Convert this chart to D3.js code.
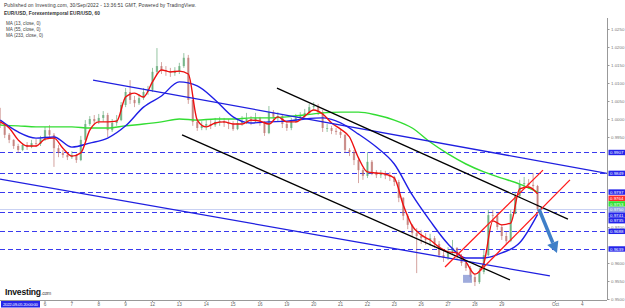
<!DOCTYPE html>
<html><head><meta charset="utf-8">
<script src="https://cdn.jsdelivr.net/npm/d3@7"></script>
<style>
html,body{margin:0;padding:0;background:#fff;overflow:hidden;}
svg{display:block;font-family:"Liberation Sans",Arial,sans-serif;}
</style></head><body>
<svg id="c" width="625" height="308"></svg>
<script>
const barStartHour = -40, barHours = 4, firstOpen = 0.9997;
const closes = [
0.9983,0.9956,0.9942,0.9925,0.9914,0.9928,0.9922,0.9933,0.9931,0.9944,
0.9969,0.9956,0.9919,0.9906,0.9900,0.9894,0.9900,0.9886,0.9942,0.9986,
1.0000,0.9994,1.0003,1.0011,0.9969,0.9989,0.9997,1.0039,1.0075,1.0053,
1.0044,1.0058,1.0075,1.0081,1.0131,1.0147,1.0136,1.0133,1.0128,1.0131,
1.0147,1.0170,1.0053,0.9992,0.9975,0.9981,0.9986,0.9983,0.9992,0.9994,
0.9989,0.9986,0.9972,0.9989,0.9994,1.0000,0.9994,1.0003,0.9992,0.9961,
1.0019,1.0006,1.0008,0.9986,0.9975,0.9994,1.0003,1.0008,1.0017,1.0033,
1.0036,1.0019,0.9975,0.9975,0.9967,0.9964,0.9956,0.9914,0.9908,0.9886,
0.9858,0.9842,0.9881,0.9853,0.9844,0.9847,0.9842,0.9839,0.9825,0.9781,
0.9731,0.9706,0.9683,0.9675,0.9669,0.9664,0.9669,0.9653,0.9622,0.9614,
0.9631,0.9642,0.9619,0.9600,0.9586,0.9561,0.9547,0.9575,0.9622,0.9733,
0.9731,0.9700,0.9675,0.9661,0.9736,0.9786,0.9819,0.9822,0.9817,0.9814,
0.9750];
const highs = [
1.0031,0.9986,0.9961,0.9944,0.9931,0.9933,0.9936,0.9942,0.9944,0.9953,
0.9978,0.9983,0.9961,0.9928,0.9914,0.9908,0.9911,0.9903,0.9953,0.9997,
1.0008,1.0011,1.0014,1.0022,1.0017,1.0000,1.0011,1.0047,1.0086,1.0108,
1.0064,1.0069,1.0086,1.0092,1.0142,1.0197,1.0158,1.0147,1.0142,1.0144,
1.0156,1.0183,1.0178,1.0053,0.9997,0.9994,1.0000,0.9997,1.0003,1.0006,
1.0003,1.0000,0.9994,1.0000,1.0008,1.0017,1.0008,1.0017,1.0006,0.9994,
1.0036,1.0025,1.0019,1.0014,0.9992,1.0003,1.0014,1.0019,1.0028,1.0042,
1.0047,1.0042,1.0025,0.9986,0.9981,0.9975,0.9969,0.9958,0.9919,0.9914,
0.9894,0.9864,0.9908,0.9886,0.9858,0.9858,0.9856,0.9853,0.9842,0.9831,
0.9783,0.9736,0.9708,0.9697,0.9692,0.9683,0.9681,0.9675,0.9661,0.9636,
0.9644,0.9664,0.9644,0.9625,0.9603,0.9592,0.9569,0.9586,0.9636,0.9747,
0.9747,0.9739,0.9706,0.9686,0.9747,0.9797,0.9831,0.9839,0.9833,0.9850,
0.9817];
const lows = [
0.9975,0.9947,0.9933,0.9917,0.9906,0.9911,0.9914,0.9919,0.9922,0.9925,
0.9939,0.9950,0.9867,0.9894,0.9892,0.9886,0.9889,0.9878,0.9883,0.9939,
0.9981,0.9983,0.9986,0.9992,0.9950,0.9964,0.9981,0.9994,1.0033,1.0042,
1.0033,1.0039,1.0053,1.0067,1.0075,1.0125,1.0125,1.0120,1.0117,1.0120,
1.0125,1.0142,1.0042,0.9981,0.9967,0.9969,0.9969,0.9972,0.9978,0.9981,
0.9978,0.9972,0.9967,0.9969,0.9981,0.9986,0.9983,0.9989,0.9981,0.9953,
0.9958,0.9997,0.9994,0.9975,0.9967,0.9969,0.9989,0.9997,1.0003,1.0014,
1.0025,1.0011,0.9964,0.9964,0.9958,0.9956,0.9947,0.9906,0.9897,0.9872,
0.9822,0.9831,0.9836,0.9844,0.9836,0.9836,0.9833,0.9828,0.9814,0.9769,
0.9719,0.9694,0.9672,0.9572,0.9653,0.9650,0.9647,0.9642,0.9614,0.9603,
0.9608,0.9625,0.9611,0.9592,0.9578,0.9553,0.9536,0.9542,0.9569,0.9619,
0.9714,0.9692,0.9664,0.9653,0.9658,0.9736,0.9783,0.9808,0.9806,0.9803,
0.9744];
// moving averages (MA13 every 2 bars, MA55 / MA233 every 4 bars)
const ma13Step = 2, maStep = 4;
const ma13 = [
0.9992,0.9975,0.9942,0.9925,0.9925,0.9944,0.9947,0.9919,0.9897,0.9906,
0.9969,0.9992,0.9992,0.9994,1.0061,1.0072,1.0061,1.0103,1.0136,1.0131,
1.0133,1.0125,0.9997,0.9978,0.9989,0.9992,0.9986,0.9986,0.9997,0.9994,
0.9986,1.0006,0.9992,0.9992,1.0008,1.0025,1.0014,0.9989,0.9972,0.9950,
0.9892,0.9853,0.9850,0.9847,0.9836,0.9761,0.9703,0.9678,0.9664,0.9644,
0.9631,0.9628,0.9603,0.9569,0.9600,0.9717,0.9706,0.9711,0.9806,0.9811,
0.9792];
const ma55 = [
0.9997,0.9964,0.9947,0.9950,0.9922,0.9933,0.9947,0.9981,1.0033,1.0064,
1.0103,1.0092,1.0053,1.0006,0.9989,0.9992,0.9994,1.0000,1.0003,0.9989,
0.9958,0.9922,0.9875,0.9789,0.9717,0.9653,0.9614,0.9614,0.9628,0.9656,
0.9735];
const ma233 = [
0.9983,0.9981,0.9978,0.9978,0.9978,0.9975,0.9975,0.9981,0.9986,0.9992,
1.0000,0.9997,1.0000,1.0000,1.0003,1.0003,1.0006,1.0011,1.0017,1.0019,
1.0019,1.0011,0.9997,0.9975,0.9936,0.9903,0.9875,0.9853,0.9836,0.9819,
0.9797];
const hLevels = [0.9907, 0.9849, 0.9797, 0.9741, 0.9688, 0.9639];
const lastPrice = 0.9750;
const tagValues = [0.9907, 0.9849, 0.9797, 0.9764, 0.9753, 0.9750, 0.9741, 0.9735, 0.9688, 0.9639];
const tagKinds  = ["b","b","b","r","g","l","b","b","b","b"];
const priceTicks = [1.025, 1.02, 1.015, 1.01, 1.005, 1.0, 0.995, 0.97, 0.96, 0.955, 0.95];
const dayLabels = ["6","7","8","9","12","13","14","15","16","19","20","21","22","23","26","27","28","29","Oct","4"];
const dayIndex  = [0,1,2,3,4,5,6,7,8,9,10,11,12,13,14,15,16,17,19,20];
// drawn tools: hour index / price endpoints
const trendLines = [
  {t1: 42.9,  p1: 1.0108, t2: 502,   p2: 0.9849, c: "#1f1fe0"},
  {t1: -40.2, p1: 0.9833, t2: 451,   p2: 0.9564, c: "#1f1fe0"},
  {t1: 207.2, p1: 1.0086, t2: 467.1, p2: 0.9722, c: "#000000"},
  {t1: 122.4, p1: 0.9956, t2: 415.3, p2: 0.9553, c: "#000000"},
  {t1: 357.3, p1: 0.9589, t2: 444.8, p2: 0.9858, c: "#ff1a1a"},
  {t1: 387.6, p1: 0.9575, t2: 468.9, p2: 0.9831, c: "#ff1a1a"}
];
const arrow = {t1: 441.2, p1: 0.9750, t2: 457.3, p2: 0.9628};
const box = {t1: 373.4, p1: 0.9567, t2: 381.4, p2: 0.9545};

// ---- scales ----
const W = 625, H = 308, axisX = 607, axisY = 300;
const x = d3.scaleLinear().domain([-40.2, 502]).range([0, axisX]);
const y = d3.scaleLinear().domain([0.95, 1.025]).range([299, 29]);
const crisp = v => Math.round(v) + 0.5;
const svg = d3.select("#c");

svg.append("defs").append("clipPath").attr("id","clip")
  .append("rect").attr("x",0).attr("y",16).attr("width",axisX).attr("height",axisY-16);
const plot = svg.append("g").attr("clip-path","url(#clip)");

// header
const hdr = svg.append("g").attr("fill","#333");
hdr.append("text").attr("x",4).attr("y",7).attr("font-size",4.8).attr("textLength",192)
  .text("Published on Investing.com, 30/Sep/2022 - 13:36:51 GMT, Powered by TradingView.");
hdr.append("text").attr("x",4).attr("y",15).attr("font-size",4.8).attr("font-weight","bold").attr("textLength",96)
  .text("EUR/USD, Forexentemporal EUR/USD, 60");
["MA (13, close, 0)","MA (55, close, 0)","MA (233, close, 0)"].forEach((s,i)=>{
  hdr.append("text").attr("x",6).attr("y",24.5+6*i).attr("font-size",4.6).attr("fill","#444").text(s);
});

// horizontal dashed levels
plot.selectAll("line.lvl").data(hLevels).enter().append("line")
  .attr("x1",0).attr("x2",axisX).attr("y1",d=>crisp(y(d))).attr("y2",d=>crisp(y(d)))
  .attr("stroke","#3a3aee").attr("stroke-width",1).attr("stroke-dasharray","5,3");
plot.append("line").attr("x1",0).attr("x2",axisX).attr("y1",crisp(y(lastPrice))).attr("y2",crisp(y(lastPrice)))
  .attr("stroke","#c9d1f3").attr("stroke-width",1);

// candles
const bars = closes.map((c,i)=>({
  t: barStartHour + barHours*i,
  o: i===0 ? firstOpen : closes[i-1], c, h: highs[i], l: lows[i]
}));
const bw = (x(barHours)-x(0))*0.5;
const cg = plot.append("g");
bars.forEach(b=>{
  const up = b.c >= b.o, col = up ? "#4f9f66" : "#b86560";
  cg.append("line").attr("x1",x(b.t)).attr("x2",x(b.t)).attr("y1",y(b.h)).attr("y2",y(b.l))
    .attr("stroke",col).attr("stroke-width",0.8).attr("opacity",0.75);
  const y0 = y(Math.max(b.o,b.c)), y1 = y(Math.min(b.o,b.c));
  cg.append("rect").attr("x",x(b.t)-bw/2).attr("y",y0).attr("width",bw).attr("height",Math.max(0.8,y1-y0))
    .attr("fill",col).attr("opacity",0.6);
});

// moving averages
const maLine = step => d3.line().curve(d3.curveMonotoneX)
  .x((d,i)=>x(barStartHour + barHours*step*i)).y(d=>y(d));
plot.append("path").datum(ma233).attr("d",maLine(maStep)).attr("fill","none").attr("stroke","#33dd33").attr("stroke-width",1.4);
plot.append("path").datum(ma55).attr("d",maLine(maStep)).attr("fill","none").attr("stroke","#1f1fe6").attr("stroke-width",1.4);
plot.append("path").datum(ma13).attr("d",maLine(ma13Step)).attr("fill","none").attr("stroke","#ee1111").attr("stroke-width",1.4);

// trend lines
plot.selectAll("line.tl").data(trendLines).enter().append("line")
  .attr("x1",d=>x(d.t1)).attr("y1",d=>y(d.p1)).attr("x2",d=>x(d.t2)).attr("y2",d=>y(d.p2))
  .attr("stroke",d=>d.c).attr("stroke-width",1.3);

// box
plot.append("rect").attr("x",x(box.t1)).attr("y",y(box.p1)).attr("width",x(box.t2)-x(box.t1)).attr("height",y(box.p2)-y(box.p1))
  .attr("fill","#7f8fd0").attr("opacity",0.75);

// arrow
{
  const ax1=x(arrow.t1), ay1=y(arrow.p1), ax2=x(arrow.t2), ay2=y(arrow.p2);
  const dx=ax2-ax1, dy=ay2-ay1, len=Math.hypot(dx,dy), ux=dx/len, uy=dy/len, nx=-uy, ny=ux;
  const hl=11, hw=6;
  const bx=ax2-ux*hl, by=ay2-uy*hl;
  plot.append("line").attr("x1",ax1).attr("y1",ay1).attr("x2",bx).attr("y2",by)
    .attr("stroke","#3f7fc8").attr("stroke-width",3.5);
  plot.append("polygon").attr("points",[[ax2,ay2],[bx+nx*hw,by+ny*hw],[bx-nx*hw,by-ny*hw]].map(p=>p.join(",")).join(" "))
    .attr("fill","#3f7fc8");
}

// axes lines
svg.append("line").attr("x1",axisX+0.5).attr("x2",axisX+0.5).attr("y1",18).attr("y2",axisY).attr("stroke","#999").attr("stroke-width",1);
svg.append("line").attr("x1",0).attr("x2",axisX).attr("y1",axisY+0.5).attr("y2",axisY+0.5).attr("stroke","#999").attr("stroke-width",1);

// price axis ticks
const yAxis = d3.axisRight(y).tickValues(priceTicks).tickFormat(d3.format(".4f")).tickSize(2).tickPadding(1.5);
const ya = svg.append("g").attr("transform",`translate(${axisX+0.5},0)`).call(yAxis);
ya.select(".domain").remove();
ya.selectAll("line").attr("stroke","#999");
ya.selectAll("text").attr("font-size",4.4).attr("fill","#777").attr("font-family","Liberation Sans, Arial, sans-serif");

// time axis
const tg = svg.append("g");
dayIndex.forEach((k,i)=>{
  const px = x(24*k);
  tg.append("line").attr("x1",px).attr("x2",px).attr("y1",axisY).attr("y2",axisY+2).attr("stroke","#999");
  tg.append("text").attr("x",px).attr("y",305.5).attr("text-anchor","middle").attr("font-size",4.6).attr("fill","#666").text(dayLabels[i]);
});
tg.append("rect").attr("x",1).attr("y",301).attr("width",39).attr("height",6.5).attr("fill","#2626e8");
tg.append("text").attr("x",3).attr("y",306).attr("font-size",4.3).attr("fill","#fff").attr("textLength",35).text("2022-09-05 20:00:00");

// price tags (stacked to avoid overlap)
const tags = tagValues.map((v,i)=>({v, k:tagKinds[i], yy:y(v)})).sort((a,b)=>a.yy-b.yy);
const gap = 5.6;
for(let it=0; it<200; it++){
  for(let i=1;i<tags.length;i++){
    const d = tags[i].yy - tags[i-1].yy;
    if(d < gap){ const s=(gap-d)/2; tags[i].yy+=s; tags[i-1].yy-=s; }
  }
}
const tagCol = {b:"#2424ea", r:"#ff2a2a", g:"#2ee02e", l:"#8c9ee6"};
const tagG = svg.append("g");
tags.forEach(t=>{
  tagG.append("rect").attr("x",axisX+1.5).attr("y",t.yy-2.7).attr("width",17).attr("height",5.4).attr("fill",tagCol[t.k]);
  tagG.append("text").attr("x",axisX+3).attr("y",t.yy+1.6).attr("font-size",4.4).attr("fill","#fff").text(d3.format(".4f")(t.v));
});

// Investing logo
const logo = svg.append("text").attr("x",5).attr("y",294.5).attr("font-size",8.6).attr("font-weight","bold").attr("fill","#111").attr("letter-spacing",-0.2);
logo.append("tspan").text("Investing");
logo.append("tspan").attr("font-size",5).attr("font-weight","normal").attr("fill","#444").text(".com");
</script>
</body></html>
